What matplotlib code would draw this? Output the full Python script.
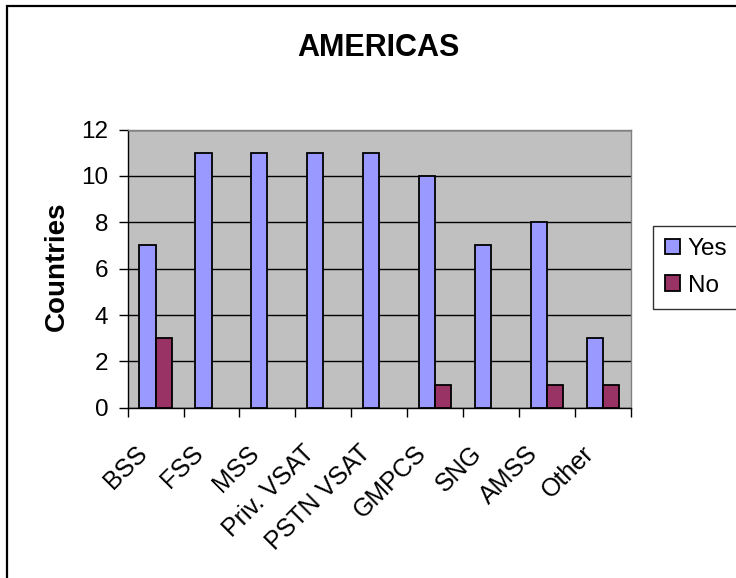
import matplotlib.pyplot as plt
from matplotlib.patches import Rectangle
from matplotlib.transforms import ScaledTranslation

# Satellite service categories and number of countries answering
servicios = ['BSS', 'FSS', 'MSS', 'Priv. VSAT', 'PSTN VSAT', 'GMPCS', 'SNG', 'AMSS', 'Other']
si = [7, 11, 11, 11, 11, 10, 7, 8, 3]
no = [3, 0, 0, 0, 0, 1, 0, 1, 1]
ticks_y = [0, 2, 4, 6, 8, 10, 12]

plt.rcParams['font.family'] = ['Liberation Sans', 'DejaVu Sans']

fig = plt.figure(figsize=(7.36, 5.78), dpi=100)
ax = fig.add_axes([0.1735, 0.2946, 0.6835, 0.4812])

ancho = 0.29
pos = list(range(len(servicios)))
# bars with a value of zero are not outlined
ax.bar([p - ancho / 2 for p in pos], si, width=ancho, color='#9999FF',
       edgecolor='black', linewidth=[1.3 if v else 0 for v in si],
       label='Yes', zorder=3)
ax.bar([p + ancho / 2 for p in pos], no, width=ancho, color='#993366',
       edgecolor='black', linewidth=[1.3 if v else 0 for v in no],
       label='No', zorder=3)

ax.set_facecolor('#C0C0C0')
ax.set_xlim(-0.5, len(servicios) - 0.5)
ax.set_ylim(0, 12)
ax.set_yticks(ticks_y)
ax.yaxis.grid(True, color='black', linewidth=1)
ax.set_axisbelow(True)

# major ticks on category boundaries, labels on minor ticks at the centres
ax.set_xticks([p - 0.5 for p in pos] + [len(servicios) - 0.5])
ax.set_xticklabels([])
ax.set_xticks(pos, minor=True)
ax.set_xticklabels(servicios, minor=True, rotation=45, ha='right',
                   rotation_mode='anchor', fontsize=18)
ax.tick_params(axis='x', which='major', length=6.5, width=1, direction='out')
ax.tick_params(axis='x', which='minor', length=0, pad=24)
ax.tick_params(axis='y', length=6.5, width=1, direction='out', labelsize=17.5, pad=7.5)
desplazar = ScaledTranslation(-21 / 100, 0, fig.dpi_scale_trans)
for lbl in ax.get_xticklabels(minor=True):
    lbl.set_transform(lbl.get_transform() + desplazar)

for lado in ['left', 'bottom']:
    ax.spines[lado].set_color('black')
    ax.spines[lado].set_linewidth(1)
for lado in ['top', 'right']:
    ax.spines[lado].set_color('#808080')
    ax.spines[lado].set_linewidth(1)

fig.text(378.7 / 736, 1 - 48 / 578, 'AMERICAS', ha='center', va='center',
         fontsize=22, fontweight='bold')
fig.text(57 / 736, 1 - 266 / 578, 'Countries', ha='center', va='center',
         rotation=90, fontsize=20, fontweight='bold')

ley = fig.legend(loc='upper left', bbox_to_anchor=(653 / 736, 1 - 226 / 578),
                 fontsize=17.5, frameon=True, fancybox=False, shadow=False,
                 handlelength=0.6, handleheight=0.6, handletextpad=0.33,
                 labelspacing=0.6, borderpad=0.5, borderaxespad=0)
ley.get_frame().set_edgecolor('black')
ley.get_frame().set_linewidth(1)

# outer chart border (right and bottom edges fall outside the canvas)
fig.patches.append(Rectangle((7 / 736, -0.1), 1.2, 1 - 6 / 578 + 0.1,
                             transform=fig.transFigure, fill=False,
                             edgecolor='black', linewidth=1.6))

fig.savefig('out.png', dpi=100)
